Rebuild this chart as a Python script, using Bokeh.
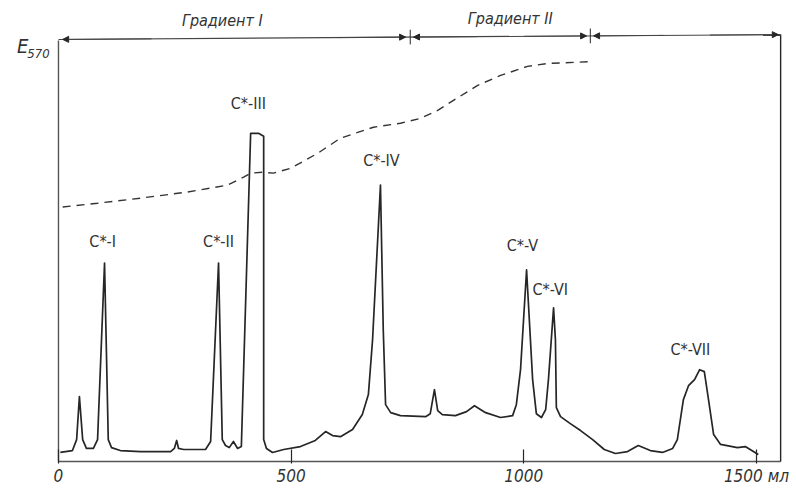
from bokeh.plotting import figure
from bokeh.models import Range1d, FixedTicker, Arrow, NormalHead
from bokeh.core.properties import value
from bokeh.embed import file_html
from bokeh.resources import INLINE

# ---- data ----
elution_ml = [4, 30, 39, 45, 52, 60, 75, 84, 99, 107, 114, 133, 176, 241, 249, 254, 258, 269,
              316, 327, 344, 352, 359, 367, 376, 385, 393, 413, 430, 441, 441, 447, 460, 484,
              520, 552, 574, 589, 606, 632, 653, 666, 675, 692, 698, 703, 714, 735, 789, 799,
              808, 815, 825, 853, 877, 894, 918, 950, 976, 984, 993, 1006, 1019, 1027, 1038,
              1047, 1053, 1064, 1068, 1070, 1079, 1100, 1122, 1148, 1173, 1197, 1223, 1246,
              1272, 1298, 1320, 1330, 1343, 1354, 1367, 1378, 1388, 1397, 1408, 1423, 1459,
              1476, 1504]
absorbance = [0.043, 0.052, 0.104, 0.308, 0.104, 0.062, 0.062, 0.104, 0.943, 0.104, 0.066,
              0.052, 0.047, 0.047, 0.062, 0.100, 0.062, 0.057, 0.057, 0.095, 0.943, 0.104,
              0.076, 0.066, 0.095, 0.062, 0.071, 1.559, 1.559, 1.545, 0.104, 0.062, 0.043,
              0.057, 0.071, 0.100, 0.142, 0.123, 0.118, 0.152, 0.223, 0.318, 0.578, 1.313,
              0.626, 0.270, 0.232, 0.218, 0.213, 0.227, 0.341, 0.242, 0.223, 0.218, 0.237,
              0.265, 0.232, 0.209, 0.218, 0.270, 0.436, 0.910, 0.389, 0.227, 0.209, 0.246,
              0.389, 0.730, 0.578, 0.256, 0.213, 0.180, 0.147, 0.104, 0.057, 0.038, 0.047,
              0.076, 0.052, 0.043, 0.062, 0.104, 0.294, 0.360, 0.389, 0.436, 0.427, 0.294,
              0.128, 0.081, 0.066, 0.071, 0.033]

gradient_ml = [9, 84, 176, 277, 363, 398, 413, 438, 462, 499, 557, 606, 677, 735, 778, 815,
               842, 901, 950, 1008, 1051, 1148]
gradient_level = [1.209, 1.227, 1.251, 1.280, 1.313, 1.351, 1.370, 1.374, 1.370, 1.393, 1.464,
                  1.536, 1.588, 1.607, 1.630, 1.668, 1.706, 1.787, 1.834, 1.877, 1.891, 1.900]

peak_names = ["C*-I", "C*-II", "C*-III", "C*-IV", "C*-V", "C*-VI", "C*-VII"]
peak_label_ml = [95, 344, 408, 694, 997, 1057, 1358]
peak_label_e = [1.043, 1.043, 1.701, 1.431, 1.028, 0.815, 0.531]

gradient_names = ["Градиент I", "Градиент II"]
gradient_label_ml = [352, 971]
gradient_label_e = [2.095, 2.104]

tick_values = [0, 500, 1000, 1500]
tick_labels = ["0", "500", "1000", "1500 мл"]

INK = "#262626"
FONT = "DejaVu Sans Condensed"
HAND = value(FONT)

p = figure(width=796, height=488, output_backend="svg", toolbar_location=None,
           x_range=Range1d(-124.6, 1586.1), y_range=Range1d(-0.0095, 2.19),
           min_border_left=0, min_border_right=0, min_border_top=0, min_border_bottom=24,
           background_fill_color="white", border_fill_color="white")
p.outline_line_color = None
p.grid.visible = False
p.yaxis.visible = False

ax = p.xaxis[0]
ax.ticker = FixedTicker(ticks=tick_values)
ax.major_label_overrides = {t: l for t, l in zip(tick_values, tick_labels)}
ax.axis_line_color = None
ax.minor_tick_line_color = None
ax.major_tick_in = 14
ax.major_tick_out = 0
ax.major_tick_line_color = INK
ax.major_tick_line_width = 1.2
ax.major_label_standoff = 2
ax.major_label_text_font = FONT
ax.major_label_text_font_style = "italic"
ax.major_label_text_font_size = "17px"
ax.major_label_text_color = "#333333"

x_end = 1552
# frame lines
p.line([0, x_end], [0, 0], line_color="#555555", line_width=1.4)
p.line([0, 0], [0, 2.0], line_color="#555555", line_width=1.4)
p.line([x_end, x_end], [0, 2.028], line_color=INK, line_width=1.4)
p.line([0, x_end], [2.005, 2.028], line_color="#444444", line_width=1.1)

# gradient span arrows on the top line
def top_y(x):
    return 2.005 + (2.028 - 2.005) * x / x_end

for xs, xe in [(200, 9), (600, 746), (900, 763), (1000, 1135), (1300, 1150), (1400, 1547)]:
    p.add_layout(Arrow(x_start=xs, y_start=top_y(xs), x_end=xe, y_end=top_y(xe),
                       line_color="#444444", line_width=1.0,
                       end=NormalHead(size=6, fill_color=INK, line_color=INK)))
for xv in [756, 1143]:
    p.line([xv, xv], [top_y(xv) - 0.035, top_y(xv) + 0.035], line_color=INK, line_width=1.0)

# chromatogram trace
p.line(elution_ml, absorbance, line_color=INK, line_width=1.7, line_join="round")

# gradient (dashed)
p.line(gradient_ml, gradient_level, line_color="#333333", line_width=1.4, line_dash="8 6")

# labels
p.text(peak_label_ml, peak_label_e, text=peak_names, text_font=HAND, text_font_size="16px",
       text_color="#333333", text_align="center", text_baseline="middle")
p.text(gradient_label_ml, gradient_label_e, text=gradient_names, text_font=HAND,
       text_font_style="italic", text_font_size="16px", text_color="#333333",
       text_align="center", text_baseline="middle")
p.text([-77], [1.972], text=["E"], text_font=HAND, text_font_style="italic",
       text_font_size="20px", text_color="#333333", text_align="center", text_baseline="middle")
p.text([-43], [1.940], text=["570"], text_font=HAND, text_font_style="italic",
       text_font_size="13px", text_color="#333333", text_align="center", text_baseline="middle")

open("out.html", "w").write(file_html(p, INLINE))
